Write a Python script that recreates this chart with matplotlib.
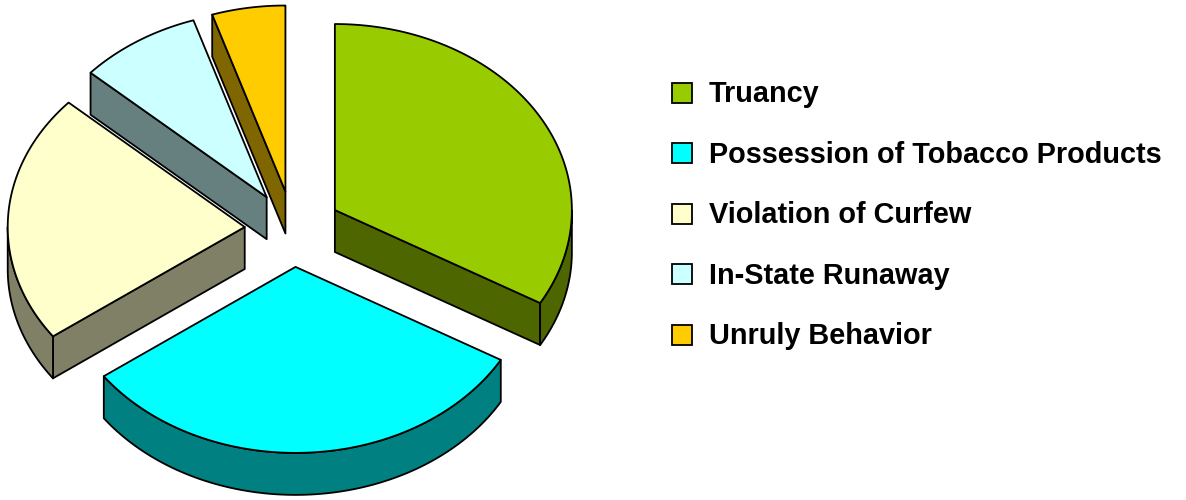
import numpy as np
import matplotlib.pyplot as plt
from matplotlib.patches import Polygon, Rectangle

# === Data ===
labels = ['Truancy', 'Possession of Tobacco Products', 'Violation of Curfew',
          'In-State Runaway', 'Unruly Behavior']
counts = [40, 38, 26, 10, 6]
top_colors = ['#99CC00', '#00FFFF', '#FFFFCC', '#CCFFFF', '#FFCC00']
side_colors = ['#4D6600', '#008080', '#808066', '#668080', '#806600']

# === Geometry (pixel units) ===
W, H = 1186, 500
cx, cy = 293, 229      # pie centre
rx, ry = 237, 186      # ellipse radii of the tilted pie
depth = 42             # thickness of the 3D pie
explode = 0.204
lw = 1.3

fig = plt.figure(figsize=(W / 100, H / 100), dpi=100)
ax = fig.add_axes([0, 0, 1, 1])
ax.set_xlim(0, W)
ax.set_ylim(H, 0)
ax.axis('off')


def rim(x0, y0, a, dy=0.0):
    return np.column_stack([x0 + rx * np.cos(a), y0 - ry * np.sin(a) + dy])


fracs = np.array(counts) / sum(counts)
ends = np.pi / 2 - np.cumsum(fracs) * 2 * np.pi
starts = ends + fracs * 2 * np.pi

slices = []
for i in range(len(counts)):
    a1, a2 = ends[i], starts[i]
    mid = (a1 + a2) / 2
    x0 = cx + explode * rx * np.cos(mid)
    y0 = cy - explode * ry * np.sin(mid)
    slices.append((y0, x0, a1, a2, i))

# back slices first
z = 1
for y0, x0, a1, a2, i in sorted(slices):
    apex = np.array([[x0, y0]])
    apex_d = np.array([[x0, y0 + depth]])
    faces = []
    # radial cut faces
    if np.cos(a1) > 1e-6:
        p = rim(x0, y0, np.array([a1]))
        faces.append(np.vstack([apex, p, p + [0, depth], apex_d]))
    if np.cos(a2) < -1e-6:
        p = rim(x0, y0, np.array([a2]))
        faces.append(np.vstack([apex, p, p + [0, depth], apex_d]))
    # outer curved wall on the front half
    for k in (-1, 0, 1):
        lo = max(a1, -np.pi + 2 * np.pi * k)
        hi = min(a2, 2 * np.pi * k)
        if hi - lo > 1e-6:
            t = np.linspace(lo, hi, 120)
            top = rim(x0, y0, t)
            bot = rim(x0, y0, t[::-1], depth)
            faces.append(np.vstack([top, bot]))
    for f in faces:
        ax.add_patch(Polygon(f, closed=True, fc=side_colors[i], ec='black',
                             lw=lw, joinstyle='round', zorder=z))
        z += 1
    t = np.linspace(a1, a2, 200)
    ax.add_patch(Polygon(np.vstack([apex, rim(x0, y0, t)]), closed=True,
                         fc=top_colors[i], ec='black', lw=lw,
                         joinstyle='round', zorder=z))
    z += 1

# === Legend ===
for i, lab in enumerate(labels):
    y = 92.5 + 60.5 * i
    ax.add_patch(Rectangle((672, y - 10), 20, 20, fc=top_colors[i],
                           ec='black', lw=lw, zorder=z))
    ax.text(709, y + 9.8, lab, fontsize=20.8, fontweight='bold',
            family=['Liberation Sans', 'DejaVu Sans'], va='baseline',
            ha='left', zorder=z)

fig.savefig('out.png', dpi=100, facecolor='white')
